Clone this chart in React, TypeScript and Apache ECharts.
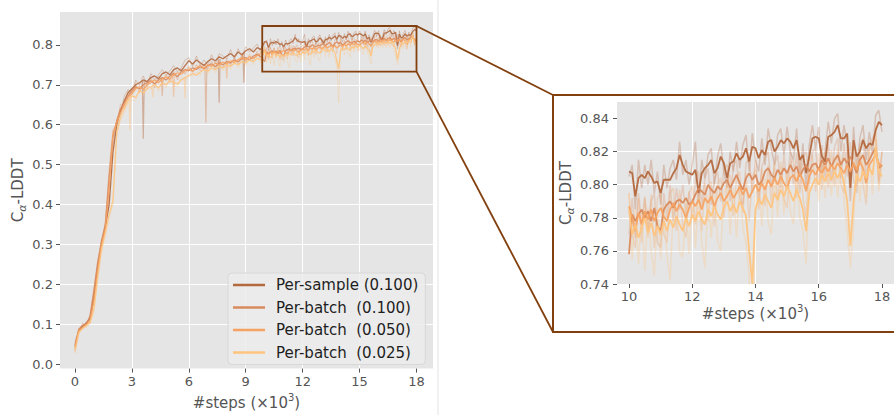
import React, { useEffect, useRef } from "react";
import * as echarts from "echarts";

// ---------- data ----------
const stepsEarly = [
  0, 0.2, 0.4, 0.6, 0.8, 1.0, 1.2, 1.4, 1.6, 1.8,
  2.0, 2.2, 2.4, 2.6, 2.8, 3.0, 3.2, 3.4, 3.6, 3.8,
  4.0, 4.2, 4.4, 4.6, 4.8, 5.0, 5.2, 5.4, 5.6, 5.8,
  6.0, 6.2, 6.4, 6.6, 6.8, 7.0, 7.2, 7.4, 7.6, 7.8,
  8.0, 8.2, 8.4, 8.6, 8.8, 9.0, 9.2, 9.4, 9.6, 9.8,
];
const stepsLate = [
  10.0, 10.1, 10.2, 10.3, 10.4, 10.5, 10.6, 10.7, 10.8, 10.9,
  11.0, 11.1, 11.2, 11.3, 11.4, 11.5, 11.6, 11.7, 11.8, 11.9,
  12.0, 12.1, 12.2, 12.3, 12.4, 12.5, 12.6, 12.7, 12.8, 12.9,
  13.0, 13.1, 13.2, 13.3, 13.4, 13.5, 13.6, 13.7, 13.8, 13.9,
  14.0, 14.1, 14.2, 14.3, 14.4, 14.5, 14.6, 14.7, 14.8, 14.9,
  15.0, 15.1, 15.2, 15.3, 15.4, 15.5, 15.6, 15.7, 15.8, 15.9,
  16.0, 16.1, 16.2, 16.3, 16.4, 16.5, 16.6, 16.7, 16.8, 16.9,
  17.0, 17.1, 17.2, 17.3, 17.4, 17.5, 17.6, 17.7, 17.8, 17.9,
  18.0,
];

// smoothed curves, steps 0 .. 9.8
const sampleEarly = [
  0.045, 0.085, 0.095, 0.105, 0.115, 0.170, 0.240, 0.300, 0.345, 0.400,
  0.530, 0.600, 0.635, 0.660, 0.680, 0.690, 0.700, 0.705, 0.712, 0.708,
  0.718, 0.722, 0.715, 0.728, 0.732, 0.725, 0.738, 0.742, 0.735, 0.748,
  0.760, 0.752, 0.762, 0.755, 0.748, 0.758, 0.765, 0.760, 0.770, 0.765,
  0.772, 0.778, 0.770, 0.782, 0.775, 0.785, 0.790, 0.782, 0.793, 0.788,
];
const batch100Early = [
  0.050, 0.088, 0.098, 0.102, 0.120, 0.185, 0.255, 0.310, 0.350, 0.470,
  0.570, 0.610, 0.640, 0.655, 0.672, 0.685, 0.695, 0.690, 0.700, 0.705,
  0.710, 0.702, 0.712, 0.718, 0.712, 0.722, 0.728, 0.720, 0.732, 0.738,
  0.735, 0.742, 0.738, 0.745, 0.740, 0.748, 0.752, 0.745, 0.755, 0.750,
  0.758, 0.755, 0.762, 0.758, 0.765, 0.768, 0.762, 0.772, 0.776, 0.770,
];
const batch050Early = [
  0.040, 0.085, 0.092, 0.100, 0.110, 0.160, 0.235, 0.300, 0.340, 0.440,
  0.575, 0.605, 0.630, 0.650, 0.668, 0.678, 0.690, 0.695, 0.688, 0.700,
  0.706, 0.712, 0.705, 0.715, 0.720, 0.714, 0.724, 0.730, 0.726, 0.735,
  0.740, 0.734, 0.742, 0.748, 0.742, 0.750, 0.746, 0.754, 0.750, 0.757,
  0.752, 0.760, 0.756, 0.763, 0.768, 0.762, 0.770, 0.766, 0.773, 0.778,
];
const batch025Early = [
  0.035, 0.080, 0.090, 0.098, 0.105, 0.140, 0.220, 0.290, 0.330, 0.375,
  0.410, 0.580, 0.620, 0.640, 0.660, 0.672, 0.668, 0.685, 0.680, 0.690,
  0.695, 0.700, 0.692, 0.705, 0.700, 0.710, 0.706, 0.702, 0.712, 0.718,
  0.722, 0.728, 0.724, 0.732, 0.738, 0.734, 0.742, 0.738, 0.746, 0.742,
  0.750, 0.746, 0.754, 0.750, 0.758, 0.755, 0.762, 0.758, 0.766, 0.762,
];

// raw (unsmoothed) curves, steps 0 .. 9.8
const rawSampleEarly = [
  0.035, 0.090, 0.100, 0.098, 0.125, 0.180, 0.255, 0.310, 0.335, 0.420,
  0.545, 0.612, 0.628, 0.672, 0.688, 0.680, 0.712, 0.698, 0.722, 0.700,
  0.728, 0.712, 0.725, 0.738, 0.722, 0.735, 0.748, 0.732, 0.742, 0.762,
  0.768, 0.745, 0.772, 0.748, 0.762, 0.750, 0.775, 0.752, 0.778, 0.772,
  0.765, 0.788, 0.765, 0.790, 0.770, 0.795, 0.782, 0.792, 0.802, 0.780,
];
const rawBatch100Early = [
  0.060, 0.082, 0.104, 0.096, 0.128, 0.195, 0.262, 0.302, 0.360, 0.490,
  0.585, 0.598, 0.652, 0.645, 0.685, 0.675, 0.705, 0.680, 0.710, 0.695,
  0.720, 0.692, 0.722, 0.708, 0.720, 0.712, 0.738, 0.712, 0.740, 0.728,
  0.745, 0.732, 0.750, 0.735, 0.752, 0.738, 0.760, 0.738, 0.762, 0.742,
  0.765, 0.748, 0.770, 0.750, 0.772, 0.758, 0.772, 0.765, 0.784, 0.762,
];
const rawBatch050Early = [
  0.030, 0.090, 0.088, 0.106, 0.102, 0.170, 0.228, 0.310, 0.332, 0.465,
  0.590, 0.598, 0.640, 0.642, 0.678, 0.668, 0.700, 0.685, 0.698, 0.690,
  0.716, 0.702, 0.715, 0.705, 0.728, 0.705, 0.732, 0.722, 0.734, 0.726,
  0.748, 0.728, 0.750, 0.740, 0.752, 0.742, 0.755, 0.745, 0.760, 0.748,
  0.760, 0.752, 0.764, 0.755, 0.775, 0.755, 0.778, 0.758, 0.780, 0.770,
];
const rawBatch025Early = [
  0.028, 0.075, 0.094, 0.092, 0.110, 0.130, 0.212, 0.282, 0.322, 0.365,
  0.400, 0.570, 0.612, 0.630, 0.652, 0.662, 0.660, 0.692, 0.672, 0.698,
  0.688, 0.708, 0.684, 0.712, 0.692, 0.718, 0.698, 0.695, 0.720, 0.710,
  0.730, 0.720, 0.732, 0.722, 0.745, 0.726, 0.748, 0.730, 0.752, 0.735,
  0.756, 0.738, 0.760, 0.742, 0.765, 0.748, 0.768, 0.750, 0.772, 0.755,
];

// smoothed curves, steps 10.0 .. 18.0
const sampleLate = [
  0.808, 0.807, 0.793, 0.804, 0.806, 0.804, 0.808, 0.805, 0.801, 0.802,
  0.795, 0.803, 0.803, 0.803, 0.807, 0.810, 0.818, 0.812, 0.808, 0.807,
  0.806, 0.809, 0.795, 0.807, 0.810, 0.812, 0.815, 0.807, 0.810, 0.817,
  0.813, 0.804, 0.813, 0.814, 0.819, 0.815, 0.817, 0.822, 0.814, 0.823,
  0.822, 0.816, 0.821, 0.818, 0.826, 0.827, 0.820, 0.823, 0.827, 0.825,
  0.828, 0.826, 0.822, 0.827, 0.815, 0.818, 0.807, 0.817, 0.828, 0.829,
  0.828, 0.817, 0.814, 0.829, 0.830, 0.832, 0.836, 0.828, 0.828, 0.831,
  0.798, 0.827, 0.817, 0.820, 0.827, 0.822, 0.825, 0.824, 0.833, 0.838,
  0.836,
];
const batch100Late = [
  0.758, 0.782, 0.778, 0.782, 0.785, 0.780, 0.784, 0.778, 0.786, 0.775,
  0.772, 0.785, 0.788, 0.790, 0.786, 0.790, 0.791, 0.789, 0.792, 0.788,
  0.790, 0.794, 0.798, 0.796, 0.794, 0.800, 0.797, 0.795, 0.799, 0.797,
  0.801, 0.803, 0.798, 0.802, 0.806, 0.801, 0.797, 0.804, 0.807, 0.803,
  0.806, 0.800, 0.802, 0.808, 0.810, 0.806, 0.804, 0.809, 0.806, 0.810,
  0.807, 0.812, 0.808, 0.811, 0.805, 0.809, 0.812, 0.808, 0.812, 0.813,
  0.809, 0.815, 0.812, 0.816, 0.811, 0.815, 0.818, 0.812, 0.816, 0.813,
  0.817, 0.812, 0.807, 0.815, 0.818, 0.812, 0.815, 0.819, 0.822, 0.810,
  0.812,
];
const batch050Late = [
  0.787, 0.780, 0.772, 0.783, 0.776, 0.784, 0.779, 0.785, 0.778, 0.783,
  0.786, 0.781, 0.778, 0.785, 0.789, 0.784, 0.788, 0.785, 0.780, 0.786,
  0.790, 0.787, 0.791, 0.785, 0.792, 0.789, 0.793, 0.787, 0.792, 0.795,
  0.790, 0.793, 0.797, 0.792, 0.795, 0.799, 0.794, 0.798, 0.792, 0.796,
  0.800, 0.796, 0.801, 0.797, 0.803, 0.799, 0.804, 0.800, 0.805, 0.801,
  0.798, 0.804, 0.806, 0.802, 0.807, 0.803, 0.796, 0.805, 0.809, 0.806,
  0.810, 0.807, 0.811, 0.808, 0.812, 0.809, 0.813, 0.810, 0.807, 0.812,
  0.808, 0.813, 0.809, 0.814, 0.810, 0.801, 0.812, 0.815, 0.818, 0.813,
  0.811,
];
const batch025Late = [
  0.785, 0.770, 0.776, 0.768, 0.774, 0.780, 0.771, 0.777, 0.769, 0.775,
  0.770, 0.778, 0.772, 0.779, 0.774, 0.781, 0.776, 0.772, 0.780, 0.775,
  0.782, 0.778, 0.784, 0.779, 0.776, 0.785, 0.781, 0.787, 0.782, 0.779,
  0.786, 0.790, 0.784, 0.788, 0.783, 0.790, 0.786, 0.781, 0.760, 0.740,
  0.785, 0.792, 0.788, 0.794, 0.790, 0.786, 0.795, 0.791, 0.797, 0.793,
  0.799, 0.795, 0.790, 0.797, 0.792, 0.785, 0.772, 0.795, 0.800, 0.804,
  0.800, 0.806, 0.802, 0.807, 0.803, 0.808, 0.804, 0.809, 0.801, 0.790,
  0.763, 0.790, 0.806, 0.802, 0.808, 0.804, 0.810, 0.806, 0.823, 0.808,
  0.805,
];

// raw (unsmoothed) curves, steps 10.0 .. 18.0
const rawSampleLate = [
  0.805, 0.812, 0.785, 0.815, 0.798, 0.812, 0.800, 0.815, 0.795, 0.808,
  0.788, 0.812, 0.798, 0.810, 0.815, 0.803, 0.826, 0.806, 0.815, 0.800,
  0.812, 0.826, 0.790, 0.815, 0.804, 0.818, 0.822, 0.800, 0.817, 0.825,
  0.808, 0.798, 0.820, 0.808, 0.826, 0.810, 0.824, 0.830, 0.808, 0.831,
  0.815, 0.808, 0.828, 0.812, 0.834, 0.822, 0.812, 0.830, 0.834, 0.818,
  0.835, 0.820, 0.815, 0.834, 0.806, 0.825, 0.798, 0.824, 0.836, 0.822,
  0.835, 0.808, 0.820, 0.838, 0.825, 0.840, 0.843, 0.820, 0.836, 0.824,
  0.790, 0.835, 0.810, 0.828, 0.836, 0.815, 0.832, 0.818, 0.842, 0.845,
  0.832,
];
const rawBatch100Late = [
  0.770, 0.792, 0.768, 0.795, 0.776, 0.792, 0.772, 0.790, 0.795, 0.765,
  0.762, 0.795, 0.780, 0.800, 0.778, 0.798, 0.785, 0.800, 0.782, 0.796,
  0.780, 0.803, 0.808, 0.788, 0.804, 0.810, 0.788, 0.803, 0.808, 0.790,
  0.810, 0.812, 0.790, 0.811, 0.815, 0.792, 0.788, 0.813, 0.816, 0.795,
  0.815, 0.790, 0.811, 0.816, 0.820, 0.798, 0.812, 0.818, 0.798, 0.818,
  0.800, 0.820, 0.800, 0.819, 0.795, 0.817, 0.820, 0.800, 0.820, 0.822,
  0.800, 0.824, 0.804, 0.825, 0.802, 0.823, 0.828, 0.804, 0.825, 0.805,
  0.826, 0.803, 0.795, 0.824, 0.828, 0.803, 0.824, 0.828, 0.832, 0.800,
  0.820,
];
const rawBatch050Late = [
  0.795, 0.770, 0.762, 0.792, 0.765, 0.793, 0.768, 0.794, 0.762, 0.792,
  0.795, 0.770, 0.765, 0.795, 0.798, 0.772, 0.797, 0.775, 0.768, 0.795,
  0.799, 0.776, 0.800, 0.772, 0.801, 0.778, 0.802, 0.775, 0.801, 0.804,
  0.780, 0.802, 0.806, 0.781, 0.804, 0.808, 0.783, 0.807, 0.778, 0.805,
  0.809, 0.785, 0.810, 0.787, 0.812, 0.789, 0.813, 0.790, 0.814, 0.791,
  0.786, 0.813, 0.815, 0.792, 0.816, 0.793, 0.780, 0.814, 0.818, 0.796,
  0.819, 0.797, 0.820, 0.798, 0.821, 0.799, 0.822, 0.800, 0.795, 0.821,
  0.798, 0.822, 0.799, 0.823, 0.800, 0.788, 0.821, 0.825, 0.828, 0.802,
  0.820,
];
const rawBatch025Late = [
  0.795, 0.755, 0.785, 0.752, 0.784, 0.748, 0.786, 0.760, 0.745, 0.785,
  0.755, 0.788, 0.758, 0.742, 0.786, 0.790, 0.760, 0.756, 0.790, 0.758,
  0.792, 0.762, 0.793, 0.765, 0.750, 0.794, 0.768, 0.796, 0.766, 0.760,
  0.795, 0.800, 0.770, 0.798, 0.768, 0.800, 0.774, 0.765, 0.745, 0.655,
  0.795, 0.802, 0.775, 0.804, 0.778, 0.770, 0.806, 0.780, 0.808, 0.782,
  0.809, 0.784, 0.776, 0.808, 0.780, 0.772, 0.752, 0.806, 0.811, 0.812,
  0.790, 0.815, 0.792, 0.816, 0.793, 0.817, 0.792, 0.818, 0.790, 0.772,
  0.750, 0.775, 0.815, 0.790, 0.818, 0.792, 0.820, 0.794, 0.835, 0.796,
  0.812,
];

// sharp downward spikes of the raw curves before step 10k
const spikeStepsSample = [3.6, 7.6, 8.9];
const spikeHighSample = [0.71, 0.765, 0.78];
const spikeLowSample = [0.565, 0.655, 0.705];
const spikeStepsB100 = [6.9, 4.6];
const spikeHighB100 = [0.745, 0.718];
const spikeLowB100 = [0.605, 0.672];
const spikeStepsB050 = [5.2, 8.0];
const spikeHighB050 = [0.725, 0.755];
const spikeLowB050 = [0.67, 0.715];
const spikeStepsB025 = [2.9, 5.8, 4.1];
const spikeHighB025 = [0.668, 0.718, 0.695];
const spikeLowB025 = [0.585, 0.665, 0.668];

const seriesNames = [
  "Per-sample (0.100)",
  "Per-batch\u00a0 (0.100)",
  "Per-batch\u00a0 (0.050)",
  "Per-batch\u00a0 (0.025)",
];
const seriesColors = ["#b4683d", "#d98a5c", "#f6a262", "#fec47e"];

const xTicks = [0, 3, 6, 9, 12, 15, 18];
const yTicks = [0, 0.1, 0.2, 0.3, 0.4, 0.5, 0.6, 0.7, 0.8];
const insetXTicks = [10, 12, 14, 16, 18];
const insetYTicks = [0.74, 0.76, 0.78, 0.8, 0.82, 0.84];
const zoomBoxX = [9.87, 18.0];
const zoomBoxY = [0.733, 0.847];

// ---------- style ----------
const FONT = "DejaVu Sans";
const TICK_COLOR = "#555555";
const BG = "#e5e5e5";
const BROWN = "#83400f";
const INSET_BOX = { left: 553, top: 95, width: 360, height: 237 };

const pairs = (xs: number[], ys: number[]) => xs.map((x, i) => [x, ys[i]]);
const spikeData = (steps: number[], high: number[], low: number[]) => {
  const out: any[] = [];
  steps.forEach((s, i) => {
    out.push([s - 0.05, high[i]], [s, low[i]], [s + 0.05, high[i]], [s + 0.05, "-"]);
  });
  return out;
};

const smoothEarly = [sampleEarly, batch100Early, batch050Early, batch025Early];
const smoothLate = [sampleLate, batch100Late, batch050Late, batch025Late];
const rawEarly = [rawSampleEarly, rawBatch100Early, rawBatch050Early, rawBatch025Early];
const rawLate = [rawSampleLate, rawBatch100Late, rawBatch050Late, rawBatch025Late];
const spikes = [
  spikeData(spikeStepsSample, spikeHighSample, spikeLowSample),
  spikeData(spikeStepsB100, spikeHighB100, spikeLowB100),
  spikeData(spikeStepsB050, spikeHighB050, spikeLowB050),
  spikeData(spikeStepsB025, spikeHighB025, spikeLowB025),
];

const axisNameRich = (size: number) => ({
  n: { fontSize: size, lineHeight: 20, color: TICK_COLOR, fontFamily: FONT },
  a: { fontSize: 11, lineHeight: 12, verticalAlign: "bottom", color: TICK_COLOR, fontFamily: FONT, fontStyle: "italic" },
  s: { fontSize: 10, lineHeight: 10, verticalAlign: "top", color: TICK_COLOR, fontFamily: FONT },
});

function makeValueAxis(opts: any) {
  const { gridIndex, min, max, splitNumber, ticks, fmt, name, nameGap, labelMargin } = opts;
  return {
    type: "value",
    gridIndex,
    min,
    max,
    splitNumber,
    name,
    nameLocation: "middle",
    nameGap,
    nameTextStyle: { rich: axisNameRich(15), fontSize: 15, color: TICK_COLOR, fontFamily: FONT },
    axisLine: { show: false, onZero: false },
    axisTick: { show: true, length: 4, lineStyle: { color: TICK_COLOR, width: 1 }, customValues: ticks },
    axisLabel: {
      show: true,
      customValues: ticks,
      formatter: (v: number) => v.toFixed(fmt),
      color: TICK_COLOR,
      fontSize: 13,
      fontFamily: FONT,
      margin: labelMargin,
    },
    splitLine: {
      show: true,
      showMinLine: false,
      showMaxLine: false,
      lineStyle: { color: "#ffffff", width: 1 },
    },
  };
}

export default function App() {
  const ref = useRef<HTMLDivElement>(null);
  useEffect(() => {
    if (!ref.current) return;
    const chart = echarts.init(ref.current, undefined, { renderer: "svg" });

    const series: any[] = [];
    // main panel: raw traces
    for (let i = 0; i < 4; i++) {
      series.push({
        type: "line",
        name: seriesNames[i] + " raw",
        xAxisIndex: 0,
        yAxisIndex: 0,
        data: pairs(stepsEarly, rawEarly[i]).concat(pairs(stepsLate, rawLate[i])),
        symbol: "none",
        color: seriesColors[i],
        lineStyle: { width: 1, opacity: 0.3 },
        silent: true,
        z: 2,
      });
      series.push({
        type: "line",
        name: seriesNames[i] + " spikes",
        xAxisIndex: 0,
        yAxisIndex: 0,
        data: spikes[i],
        symbol: "none",
        color: seriesColors[i],
        lineStyle: { width: 1.2, opacity: 0.45 },
        connectNulls: false,
        silent: true,
        z: 2,
      });
    }
    // main panel: smoothed
    for (let i = 0; i < 4; i++) {
      series.push({
        type: "line",
        name: seriesNames[i],
        xAxisIndex: 0,
        yAxisIndex: 0,
        data: pairs(stepsEarly, smoothEarly[i]).concat(pairs(stepsLate, smoothLate[i])),
        symbol: "none",
        color: seriesColors[i],
        lineStyle: { width: 1.3, opacity: 0.9 },
        silent: true,
        z: 3,
      });
    }
    // zoom box + connectors
    series.push({
      type: "custom",
      name: "zoom",
      xAxisIndex: 0,
      yAxisIndex: 0,
      clip: false,
      silent: true,
      z: 10,
      data: [[zoomBoxX[0], zoomBoxY[0], zoomBoxX[1], zoomBoxY[1]]],
      renderItem: (params: any, api: any) => {
        const tl = api.coord([api.value(0), api.value(3)]);
        const br = api.coord([api.value(2), api.value(1)]);
        const st = { stroke: BROWN, lineWidth: 1.8, fill: "none" };
        return {
          type: "group",
          children: [
            { type: "rect", shape: { x: tl[0], y: tl[1], width: br[0] - tl[0], height: br[1] - tl[1] }, style: st },
            { type: "line", shape: { x1: br[0], y1: tl[1], x2: INSET_BOX.left, y2: INSET_BOX.top }, style: st },
            { type: "line", shape: { x1: br[0], y1: br[1], x2: INSET_BOX.left, y2: INSET_BOX.top + INSET_BOX.height }, style: st },
          ],
        };
      },
    });
    // inset
    for (let i = 0; i < 4; i++) {
      series.push({
        type: "line",
        name: seriesNames[i] + " raw inset",
        xAxisIndex: 1,
        yAxisIndex: 1,
        data: pairs(stepsLate, rawLate[i]),
        symbol: "none",
        color: seriesColors[i],
        lineStyle: { width: 1.5, opacity: 0.3 },
        silent: true,
        z: 2,
      });
    }
    for (let i = 0; i < 4; i++) {
      series.push({
        type: "line",
        name: seriesNames[i],
        xAxisIndex: 1,
        yAxisIndex: 1,
        data: pairs(stepsLate, smoothLate[i]),
        symbol: "none",
        color: seriesColors[i],
        lineStyle: { width: 1.8, opacity: 0.95 },
        silent: true,
        z: 3,
      });
    }

    const yName = "{n|C}{a|α}{n|-LDDT}";
    const xName = "{n|#steps (×10}{s|3}{n|)}";

    chart.setOption({
      animation: false,
      backgroundColor: "#ffffff",
      grid: [
        { left: 60, top: 12, width: 373, height: 363, show: true, backgroundColor: BG, borderWidth: 0 },
        { left: 617, top: 102, width: 279, height: 182, show: true, backgroundColor: BG, borderWidth: 0 },
      ],
      xAxis: [
        makeValueAxis({ gridIndex: 0, min: -0.79, max: 18.87, splitNumber: 6, ticks: xTicks, fmt: 0, name: xName, nameGap: 20, labelMargin: 6 }),
        makeValueAxis({ gridIndex: 1, min: 9.62, max: 18.38, splitNumber: 4, ticks: insetXTicks, fmt: 0, name: xName, nameGap: 16, labelMargin: 6 }),
      ],
      yAxis: [
        makeValueAxis({ gridIndex: 0, min: -0.01, max: 0.882, splitNumber: 8, ticks: yTicks, fmt: 1, name: yName, nameGap: 30, labelMargin: 7 }),
        makeValueAxis({ gridIndex: 1, min: 0.74, max: 0.85, splitNumber: 5, ticks: insetYTicks, fmt: 2, name: yName, nameGap: 40, labelMargin: 8 }),
      ],
      legend: {
        show: true,
        data: seriesNames,
        orient: "vertical",
        left: 228,
        top: 273,
        icon: "rect",
        itemWidth: 32,
        itemHeight: 2.5,
        itemGap: 4.5,
        padding: [3, 7, 3, 5],
        backgroundColor: "rgba(236,236,236,0.85)",
        borderColor: "#d8d8d8",
        borderWidth: 1,
        borderRadius: 4,
        textStyle: { fontSize: 15, lineHeight: 18, color: "#1e1e1e", fontFamily: FONT, padding: [0, 0, 0, 6] },
        selectedMode: false,
      },
      graphic: [
        {
          type: "line",
          shape: { x1: 438, y1: 0, x2: 438, y2: 415 },
          style: { stroke: "#e3e3e3", lineWidth: 1 },
          silent: true,
        },
        {
          type: "rect",
          shape: { x: INSET_BOX.left, y: INSET_BOX.top, width: INSET_BOX.width, height: INSET_BOX.height },
          style: { fill: "none", stroke: BROWN, lineWidth: 2 },
          silent: true,
        },
      ],
      series,
    });

    return () => chart.dispose();
  }, []);

  return (
    <div
      ref={ref}
      style={{ position: "fixed", left: 0, top: 0, width: 894, height: 415, overflow: "hidden" }}
    />
  );
}
